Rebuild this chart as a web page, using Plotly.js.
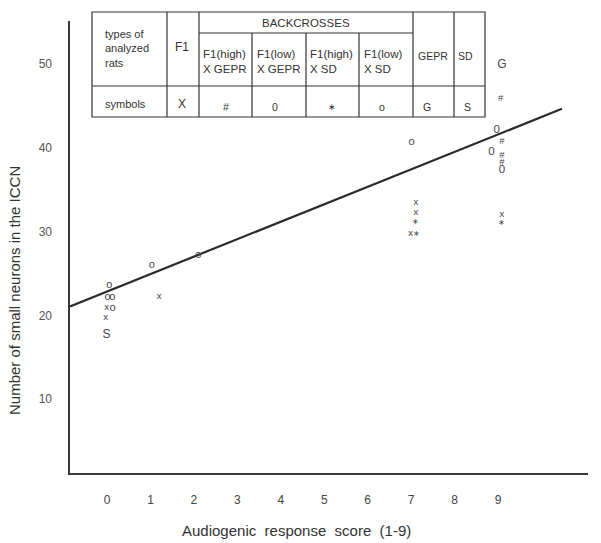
<!DOCTYPE html>
<html>
<head>
<meta charset="utf-8">
<script src="https://cdn.plot.ly/plotly-3.0.1.min.js"></script>
<style>
  body { margin: 0; background: white; }
  #grafico { width: 601px; height: 543px; }
</style>
</head>
<body>
<div id="grafico"></div>
<script>
    // Datos (x = puntuacion audiogenica, y = neuronas pequenas)
    // F1 -> "X"
    const f1X = [-0.01, -0.03, 1.20, 7.11, 7.11, 6.99, 9.09];
    const f1Y = [20.9, 19.7, 22.2, 33.4, 32.2, 29.7, 32.0];
    // F1(high) x GEPR -> "#"
    const altoGeprX = [9.06, 9.09, 9.09, 9.09];
    const altoGeprY = [45.8, 40.7, 39.1, 38.2];
    // F1(low) x GEPR -> "0"
    const bajoGeprX = [8.97, 8.85, 9.09];
    const bajoGeprY = [42.1, 39.5, 37.35];
    // F1(high) x SD -> "*"
    const altoSdX = [7.11, 7.13, 9.09];
    const altoSdY = [31.1, 29.7, 31.0];
    // F1(low) x SD -> "o"
    const bajoSdX = [0.05, 0.01, 0.12, 0.13, 1.03, 2.10, 7.01];
    const bajoSdY = [23.55, 22.2, 22.2, 20.9, 26.0, 27.2, 40.7];
    // GEPR -> "G"
    const geprX = [9.09];
    const geprY = [49.8];
    // SD -> "S"
    const sdX = [-0.01];
    const sdY = [17.6];

    // Recta de regresion (extremos)
    const rectaX = [-0.852, 10.47];
    const rectaY = [21.07, 44.63];

    // Ejes
    const ticksX = [0, 1, 2, 3, 4, 5, 6, 7, 8, 9];
    const ticksY = [10, 20, 30, 40, 50];
    const tituloX = 'Audiogenic  response  score  (1-9)';
    const tituloY = 'Number of small neurons in the ICCN';

    // Tabla de simbolos
    const cabeceraTipos = 'types of<br>analyzed<br>rats';
    const cabeceraCruces = 'BACKCROSSES';
    const columnasTabla = ['F1', 'F1(high)<br>X GEPR', 'F1(low)<br>X GEPR', 'F1(high)<br>X SD', 'F1(low)<br>X SD', 'GEPR', 'SD'];
    const simbolosTabla = ['X', '#', '0', '∗', 'o', 'G', 'S'];

    // Geometria de la pagina (pixeles)
    const W = 601, H = 543;
    const M = {l: 70, r: 13, t: 21, b: 70};
    const pw = W - M.l - M.r;
    const ph = H - M.t - M.b;
    const px = X => (X - M.l) / pw;
    const py = Y => (H - M.b - Y) / ph;

    const tinta = '#333333';
    const fuente = 'Liberation Sans, Arial, sans-serif';

    function trazaTexto(xs, ys, simbolo, nombre, tam) {
        return {
            x: xs, y: ys,
            type: 'scatter',
            mode: 'text',
            text: xs.map(() => simbolo),
            textposition: 'middle center',
            textfont: {family: fuente, size: tam, color: '#444444'},
            name: nombre,
            hoverinfo: 'x+y+name'
        };
    }

    const trazas = [
        {
            x: rectaX, y: rectaY,
            type: 'scatter', mode: 'lines',
            line: {color: '#2b2b2b', width: 2.2},
            name: 'regression', hoverinfo: 'skip'
        },
        trazaTexto(f1X, f1Y, 'x', 'F1', 9.5),
        trazaTexto(altoGeprX, altoGeprY, '#', 'F1(high) X GEPR', 9.5),
        trazaTexto(bajoGeprX, bajoGeprY, '0', 'F1(low) X GEPR', 11.5),
        trazaTexto(altoSdX, altoSdY, '∗', 'F1(high) X SD', 8),
        trazaTexto(bajoSdX, bajoSdY, 'o', 'F1(low) X SD', 11),
        trazaTexto(geprX, geprY, 'G', 'GEPR', 12),
        trazaTexto(sdX, sdY, 'S', 'SD', 12)
    ];

    // Lineas de la tabla
    const bordes = [92, 167, 199, 252, 306, 359, 413, 454, 485];
    const tablaArriba = 12, lineaCruces = 33, lineaFila = 86, tablaAbajo = 117;
    const linea = (x0, y0, x1, y1) => ({
        type: 'line', xref: 'paper', yref: 'paper',
        x0: px(x0), y0: py(y0), x1: px(x1), y1: py(y1),
        line: {color: tinta, width: 1.2}
    });
    const formas = [
        {
            type: 'rect', xref: 'paper', yref: 'paper',
            x0: px(bordes[0]), x1: px(bordes[bordes.length - 1]),
            y0: py(tablaAbajo), y1: py(tablaArriba),
            fillcolor: 'white', line: {color: tinta, width: 1.2}, layer: 'below'
        },
        linea(bordes[0], lineaFila, bordes[8], lineaFila),
        linea(bordes[2], lineaCruces, bordes[6], lineaCruces)
    ];
    bordes.slice(1, -1).forEach((b, i) => {
        const dentroCruces = i >= 2 && i <= 4;
        formas.push(linea(b, dentroCruces ? lineaCruces : tablaArriba, b, tablaAbajo));
    });

    // Textos de la tabla
    const nota = (X, Y, texto, extra) => Object.assign({
        xref: 'paper', yref: 'paper', x: px(X), y: py(Y),
        text: texto, showarrow: false,
        xanchor: 'center', yanchor: 'middle',
        font: {family: fuente, size: 11, color: tinta}
    }, extra || {});

    const anotaciones = [
        nota(103, 48, cabeceraTipos, {xanchor: 'left', align: 'left'}),
        nota((bordes[2] + bordes[6]) / 2, 23, cabeceraCruces, {font: {family: fuente, size: 11.5, color: tinta}}),
        nota(103, 104, 'symbols', {xanchor: 'left'})
    ];
    const posTitulo = [
        {x: 182, y: 47, izq: false, tam: 12},
        {x: 201, y: 62, izq: true, tam: 11.5},
        {x: 255, y: 62, izq: true, tam: 11.5},
        {x: 308, y: 62, izq: true, tam: 11.5},
        {x: 362, y: 62, izq: true, tam: 11.5},
        {x: 433, y: 56, izq: false, tam: 10.5},
        {x: 465, y: 56, izq: false, tam: 10.5}
    ];
    const posSimbolo = [182, 226, 275, 332, 382, 427, 467];
    const tamSimbolo = [12, 10.5, 10.5, 8.5, 10.5, 10.5, 10.5];
    columnasTabla.forEach((t, i) => {
        const p = posTitulo[i];
        anotaciones.push(nota(p.x, p.y, t, {
            xanchor: p.izq ? 'left' : 'center', align: 'left',
            font: {family: fuente, size: p.tam, color: tinta}
        }));
        anotaciones.push(nota(posSimbolo[i], i === 0 ? 104 : 107, simbolosTabla[i], {
            font: {family: fuente, size: tamSimbolo[i], color: tinta}
        }));
    });

    // Titulos de los ejes
    anotaciones.push(nota(296, 530, tituloX, {font: {family: fuente, size: 15, color: tinta}}));
    anotaciones.push(nota(15, 291, tituloY, {textangle: -90, font: {family: fuente, size: 15, color: tinta}}));

    const layout = {
        width: W, height: H,
        margin: M,
        showlegend: false,
        plot_bgcolor: 'white',
        paper_bgcolor: 'white',
        xaxis: {
            range: [-0.852, 11.07],
            tickvals: ticksX,
            showgrid: false, zeroline: false,
            showline: true, linecolor: '#3a3a3a', linewidth: 1.6,
            ticks: '',
            ticklabelstandoff: 15,
            tickfont: {family: fuente, size: 12, color: '#444444'}
        },
        yaxis: {
            range: [1.2, 55.1],
            tickvals: ticksY,
            showgrid: false, zeroline: false,
            showline: true, linecolor: '#3a3a3a', linewidth: 1.6,
            ticks: '',
            ticklabelstandoff: 14,
            tickfont: {family: fuente, size: 12, color: '#555555'}
        },
        shapes: formas,
        annotations: anotaciones
    };

    Plotly.newPlot('grafico', trazas, layout, {displayModeBar: false, staticPlot: true});
</script>
</body>
</html>
